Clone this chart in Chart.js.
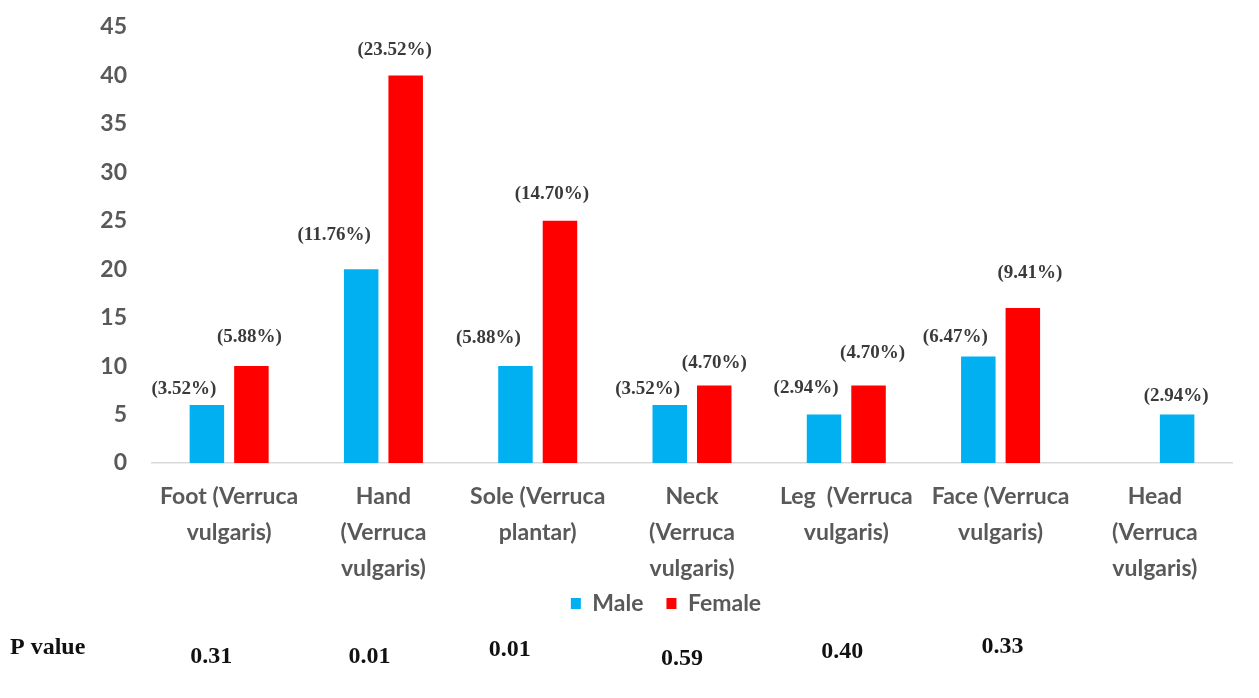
<!DOCTYPE html>
<html>
<head>
<meta charset="utf-8">
<script src="https://cdn.jsdelivr.net/npm/chart.js@4.4.1/dist/chart.umd.min.js"></script>
<style>
  html, body { margin: 0; padding: 0; background: #ffffff; }
  #wrap { width: 1259px; height: 698px; position: relative; }
</style>
</head>
<body>
<div id="wrap"><canvas id="chart"></canvas></div>
<script>
// Wart sites by sex
const categories = [
  ["Foot (Verruca", "vulgaris)"],
  ["Hand", "(Verruca", "vulgaris)"],
  ["Sole (Verruca", "plantar)"],
  ["Neck", "(Verruca", "vulgaris)"],
  ["Leg  (Verruca", "vulgaris)"],
  ["Face (Verruca", "vulgaris)"],
  ["Head", "(Verruca", "vulgaris)"]
];
const maleCounts   = [6, 20, 10, 6, 5, 11, null];
const femaleCounts = [10, 40, 25, 8, 8, 16, 5];
const malePercent   = ["(3.52%)", "(11.76%)", "(5.88%)", "(3.52%)", "(2.94%)", "(6.47%)", null];
const femalePercent = ["(5.88%)", "(23.52%)", "(14.70%)", "(4.70%)", "(4.70%)", "(9.41%)", "(2.94%)"];
const pValues = ["0.31", "0.01", "0.01", "0.59", "0.40", "0.33"];
const yTicks = [0, 5, 10, 15, 20, 25, 30, 35, 40, 45];

// the head bar is shown in blue
const blueSlots = [false, false, false, false, false, false, true];

const BLUE = "#00B0F0";
const RED = "#FF0000";
const AXIS_GREY = "#595959";
const SANS = "Lato, 'Open Sans', sans-serif";
const SERIF = "'Liberation Serif', 'Times New Roman', serif";

// hand-placed label nudges [dx, dy] relative to the bar top centre
const maleNudge = [[-23, -16], [-27, -34], [-27, -28], [-22, -16], [-18, -26], [-23, -19], [0, 0]];
const femaleNudge = [[-2, -29], [-11, -25], [-8, -27], [0, -22], [4, -32], [7, -35], [-1, -18]];
const pNudge = [[-18, 9], [-14, 9], [-28, 2], [-10, 11], [-4, 4], [2, -1]];

const barLabels = {
  id: "barLabels",
  afterDatasetsDraw(chart) {
    const ctx = chart.ctx;
    ctx.save();
    ctx.font = "bold 19px " + SERIF;
    ctx.fillStyle = "#3a3a3a";
    ctx.textAlign = "center";
    ctx.textBaseline = "middle";
    const sets = [[malePercent, maleNudge], [femalePercent, femaleNudge]];
    sets.forEach(([texts, nudge], di) => {
      const meta = chart.getDatasetMeta(di);
      meta.data.forEach((bar, i) => {
        if (!texts[i]) return;
        ctx.fillText(texts[i], bar.x + nudge[i][0], bar.y + nudge[i][1]);
      });
    });
    ctx.restore();
  }
};

// pull the legend up so it sits close under the last label line
const legendLift = {
  id: "legendLift",
  afterLayout(chart) {
    const lg = chart.legend;
    if (!lg) return;
    lg.top -= 34;
    lg.bottom -= 34;
  }
};

const pValueRow = {
  id: "pValueRow",
  afterDraw(chart) {
    const ctx = chart.ctx;
    const xs = chart.scales.x;
    const baseY = chart.height - 50;
    ctx.save();
    ctx.font = "bold 24px " + SERIF;
    ctx.fillStyle = "#111111";
    ctx.textBaseline = "middle";
    ctx.textAlign = "left";
    ctx.fillText("P value", 10, baseY);
    ctx.textAlign = "center";
    pValues.forEach((p, i) => {
      ctx.fillText(p, xs.getPixelForValue(i) + pNudge[i][0], baseY + pNudge[i][1]);
    });
    ctx.restore();
  }
};

new Chart(document.getElementById("chart"), {
  type: "bar",
  data: {
    labels: categories,
    datasets: [
      {
        label: "Male",
        data: maleCounts,
        backgroundColor: BLUE,
        categoryPercentage: 0.577,
        barPercentage: 0.775
      },
      {
        label: "Female",
        data: femaleCounts,
        backgroundColor: blueSlots.map(b => (b ? BLUE : RED)),
        categoryPercentage: 0.577,
        barPercentage: 0.775
      }
    ]
  },
  options: {
    responsive: true,
    maintainAspectRatio: false,
    animation: false,
    layout: { padding: { left: 100, right: 27, top: 27, bottom: 39 } },
    plugins: {
      tooltip: { enabled: false },
      legend: {
        position: "bottom",
        labels: {
          generateLabels() {
            return [
              { text: "Male", fillStyle: BLUE, strokeStyle: BLUE, lineWidth: 0, fontColor: AXIS_GREY },
              { text: "Female", fillStyle: RED, strokeStyle: RED, lineWidth: 0, fontColor: AXIS_GREY }
            ];
          },
          boxWidth: 10,
          boxHeight: 11,
          padding: 23,
          color: AXIS_GREY,
          font: { family: SANS, size: 23, weight: "bold" }
        }
      }
    },
    scales: {
      x: {
        grid: { display: false, drawTicks: false },
        border: { display: true, color: "#d9d9d9", width: 1.5 },
        ticks: {
          autoSkip: false,
          maxRotation: 0,
          minRotation: 0,
          padding: 16,
          color: AXIS_GREY,
          font: { family: SANS, size: 23, weight: "bold", lineHeight: 1.565 }
        }
      },
      y: {
        min: 0,
        max: 45,
        afterBuildTicks(scale) { scale.ticks = yTicks.map(v => ({ value: v })); },
        afterFit(scale) {
          scale.width = 52;
          scale.paddingTop = 0;
          scale.paddingBottom = 0;
        },
        grid: { display: false, drawTicks: false },
        border: { display: false },
        ticks: {
          padding: 25,
          color: AXIS_GREY,
          font: { family: SANS, size: 23, weight: "bold" }
        }
      }
    }
  },
  plugins: [barLabels, legendLift, pValueRow]
});
</script>
</body>
</html>
